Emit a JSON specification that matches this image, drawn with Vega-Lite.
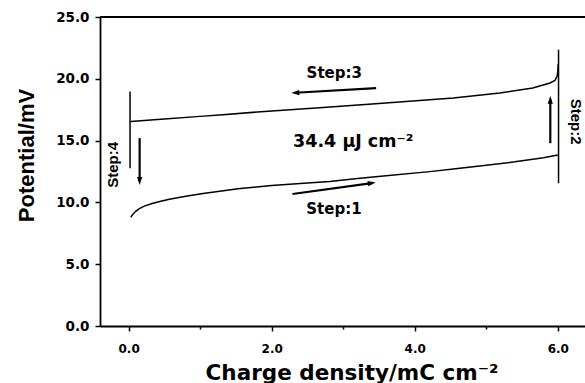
{
  "$schema": "https://vega.github.io/schema/vega-lite/v6.json",
  "width": 485,
  "height": 309,
  "autosize": {"type": "none"},
  "padding": {"left": 100, "top": 17, "right": 0, "bottom": 57},
  "background": "white",
  "config": {"view": {"stroke": null}, "font": "DejaVu Sans"},
  "datasets": {
    "curve": [
      {"seg": "s1", "i": 1, "x": 0.03, "y": 8.8},
      {"seg": "s1", "i": 2, "x": 0.06, "y": 9.05},
      {"seg": "s1", "i": 3, "x": 0.1, "y": 9.28},
      {"seg": "s1", "i": 4, "x": 0.15, "y": 9.5},
      {"seg": "s1", "i": 5, "x": 0.22, "y": 9.7},
      {"seg": "s1", "i": 6, "x": 0.34, "y": 9.93},
      {"seg": "s1", "i": 7, "x": 0.45, "y": 10.1},
      {"seg": "s1", "i": 8, "x": 0.57, "y": 10.25},
      {"seg": "s1", "i": 9, "x": 0.8, "y": 10.5},
      {"seg": "s1", "i": 10, "x": 1.04, "y": 10.72},
      {"seg": "s1", "i": 11, "x": 1.3, "y": 10.92},
      {"seg": "s1", "i": 12, "x": 1.53, "y": 11.1},
      {"seg": "s1", "i": 13, "x": 2.0, "y": 11.36},
      {"seg": "s1", "i": 14, "x": 2.5, "y": 11.56},
      {"seg": "s1", "i": 15, "x": 2.81, "y": 11.7},
      {"seg": "s1", "i": 16, "x": 3.2, "y": 11.94},
      {"seg": "s1", "i": 17, "x": 3.6, "y": 12.16},
      {"seg": "s1", "i": 18, "x": 4.21, "y": 12.49},
      {"seg": "s1", "i": 19, "x": 4.6, "y": 12.74},
      {"seg": "s1", "i": 20, "x": 5.0, "y": 13.0},
      {"seg": "s1", "i": 21, "x": 5.4, "y": 13.28},
      {"seg": "s1", "i": 22, "x": 5.8, "y": 13.62},
      {"seg": "s1", "i": 23, "x": 6.0, "y": 13.84},
      {"seg": "s2", "i": 1, "x": 6.01, "y": 11.55},
      {"seg": "s2", "i": 2, "x": 6.01, "y": 22.36},
      {"seg": "s3", "i": 1, "x": 0.03, "y": 16.55},
      {"seg": "s3", "i": 2, "x": 0.5, "y": 16.75},
      {"seg": "s3", "i": 3, "x": 1.0, "y": 16.96},
      {"seg": "s3", "i": 4, "x": 1.27, "y": 17.08},
      {"seg": "s3", "i": 5, "x": 2.0, "y": 17.4},
      {"seg": "s3", "i": 6, "x": 2.67, "y": 17.65},
      {"seg": "s3", "i": 7, "x": 3.5, "y": 18.0},
      {"seg": "s3", "i": 8, "x": 4.54, "y": 18.44},
      {"seg": "s3", "i": 9, "x": 5.19, "y": 18.85},
      {"seg": "s3", "i": 10, "x": 5.65, "y": 19.25},
      {"seg": "s3", "i": 11, "x": 5.89, "y": 19.66},
      {"seg": "s3", "i": 12, "x": 5.96, "y": 19.87},
      {"seg": "s3", "i": 13, "x": 5.99, "y": 20.2},
      {"seg": "s3", "i": 14, "x": 6.0, "y": 20.6},
      {"seg": "s3", "i": 15, "x": 6.005, "y": 21.2},
      {"seg": "s4", "i": 1, "x": 0.02, "y": 12.76},
      {"seg": "s4", "i": 2, "x": 0.02, "y": 18.98}
    ],
    "arrows": [
      {"step": "3", "x": 3.46, "y": 19.25, "xh": 2.33, "yh": 18.87, "a": 266.6},
      {"step": "1", "x": 2.29, "y": 10.68, "xh": 3.4, "yh": 11.56, "a": 82.3},
      {"step": "2", "x": 5.895, "y": 14.79, "xh": 5.895, "yh": 18.3, "a": 0},
      {"step": "4", "x": 0.154, "y": 15.2, "xh": 0.154, "yh": 11.74, "a": 180}
    ],
    "hlabels": [
      {"t": "Step:3", "x": 2.875, "y": 20.06},
      {"t": "Step:1", "x": 2.87, "y": 9.06}
    ],
    "energy": [
      {"t": "34.4 μJ cm⁻²", "x": 3.14, "y": 14.52}
    ],
    "vlabels": [
      {"t": "Step:4", "x": -0.224, "y": 13.03, "a": 270},
      {"t": "Step:2", "x": 6.26, "y": 16.54, "a": 90}
    ],
    "frame": [{"y": 25}]
  },
  "layer": [
    {
      "data": {"name": "curve"},
      "mark": {"type": "line", "color": "black", "strokeWidth": 1.5, "clip": false},
      "encoding": {
        "x": {
          "field": "x",
          "type": "quantitative",
          "scale": {"domain": [-0.4, 6.38], "nice": false, "zero": false},
          "axis": {
            "values": [0, 1, 2, 3, 4, 5, 6],
            "labelExpr": "datum.value % 2 === 0 ? format(datum.value, '.1f') : ''",
            "grid": false,
            "domainColor": "black",
            "domainWidth": 1.8,
            "tickColor": "black",
            "tickWidth": 1.5,
            "tickSize": {"condition": {"test": "datum.value % 2 === 0", "value": 5}, "value": 3},
            "labelPadding": 12,
            "labelFont": "DejaVu Sans",
            "labelFontWeight": "bold",
            "labelFontSize": 12,
            "labelColor": "black",
            "labelFlush": false,
            "title": "Charge density/mC cm⁻²",
            "titleFont": "DejaVu Sans",
            "titleFontWeight": "bold",
            "titleFontSize": 21.5,
            "titleColor": "black",
            "titleAlign": "center",
            "titleBaseline": "alphabetic",
            "titleX": 251.5,
            "titleY": 53
          }
        },
        "y": {
          "field": "y",
          "type": "quantitative",
          "scale": {"domain": [0, 25], "nice": false, "zero": false},
          "axis": {
            "values": [0, 2.5, 5, 7.5, 10, 12.5, 15, 17.5, 20, 22.5, 25],
            "labelExpr": "datum.value % 5 === 0 ? format(datum.value, '.1f') : ''",
            "grid": false,
            "domainColor": "black",
            "domainWidth": 1.8,
            "tickColor": "black",
            "tickWidth": 1.5,
            "tickSize": {"condition": {"test": "datum.value % 5 === 0", "value": 5}, "value": 3},
            "labelPadding": 6,
            "labelFont": "DejaVu Sans",
            "labelFontWeight": "bold",
            "labelFontSize": 13.5,
            "labelColor": "black",
            "labelFlush": false,
            "title": "Potential/mV",
            "titleFont": "Liberation Sans",
            "titleFontWeight": "bold",
            "titleFontSize": 22,
            "titleColor": "black",
            "titleAngle": 270,
            "titleAlign": "center",
            "titleBaseline": "alphabetic",
            "titleX": -66.7,
            "titleY": 138
          }
        },
        "detail": {"field": "seg"},
        "order": {"field": "i", "type": "quantitative"}
      }
    },
    {
      "data": {"name": "frame"},
      "mark": {"type": "rule", "color": "black", "strokeWidth": 1.8},
      "encoding": {
        "y": {"field": "y", "type": "quantitative"}
      }
    },
    {
      "data": {"name": "arrows"},
      "mark": {"type": "rule", "color": "black", "strokeWidth": 2.2},
      "encoding": {
        "x": {"field": "x", "type": "quantitative"},
        "y": {"field": "y", "type": "quantitative"},
        "x2": {"field": "xh"},
        "y2": {"field": "yh"}
      }
    },
    {
      "data": {"name": "arrows"},
      "mark": {"type": "point", "shape": "M0,-1L0.65,1L-0.65,1Z", "filled": true, "color": "black", "opacity": 1, "size": 64},
      "encoding": {
        "x": {"field": "xh", "type": "quantitative"},
        "y": {"field": "yh", "type": "quantitative"},
        "angle": {"field": "a", "type": "quantitative", "scale": null}
      }
    },
    {
      "data": {"name": "hlabels"},
      "mark": {"type": "text", "font": "DejaVu Sans", "fontWeight": "bold", "fontSize": 15, "color": "black", "align": "center", "baseline": "alphabetic"},
      "encoding": {
        "x": {"field": "x", "type": "quantitative"},
        "y": {"field": "y", "type": "quantitative"},
        "text": {"field": "t"}
      }
    },
    {
      "data": {"name": "energy"},
      "mark": {"type": "text", "font": "DejaVu Sans", "fontWeight": "bold", "fontSize": 17.5, "color": "black", "align": "center", "baseline": "alphabetic"},
      "encoding": {
        "x": {"field": "x", "type": "quantitative"},
        "y": {"field": "y", "type": "quantitative"},
        "text": {"field": "t"}
      }
    },
    {
      "data": {"name": "vlabels"},
      "mark": {"type": "text", "font": "Liberation Sans", "fontWeight": "bold", "fontSize": 15, "color": "black", "align": "center", "baseline": "middle"},
      "encoding": {
        "x": {"field": "x", "type": "quantitative"},
        "y": {"field": "y", "type": "quantitative"},
        "angle": {"field": "a", "type": "quantitative", "scale": null},
        "text": {"field": "t"}
      }
    }
  ]
}
